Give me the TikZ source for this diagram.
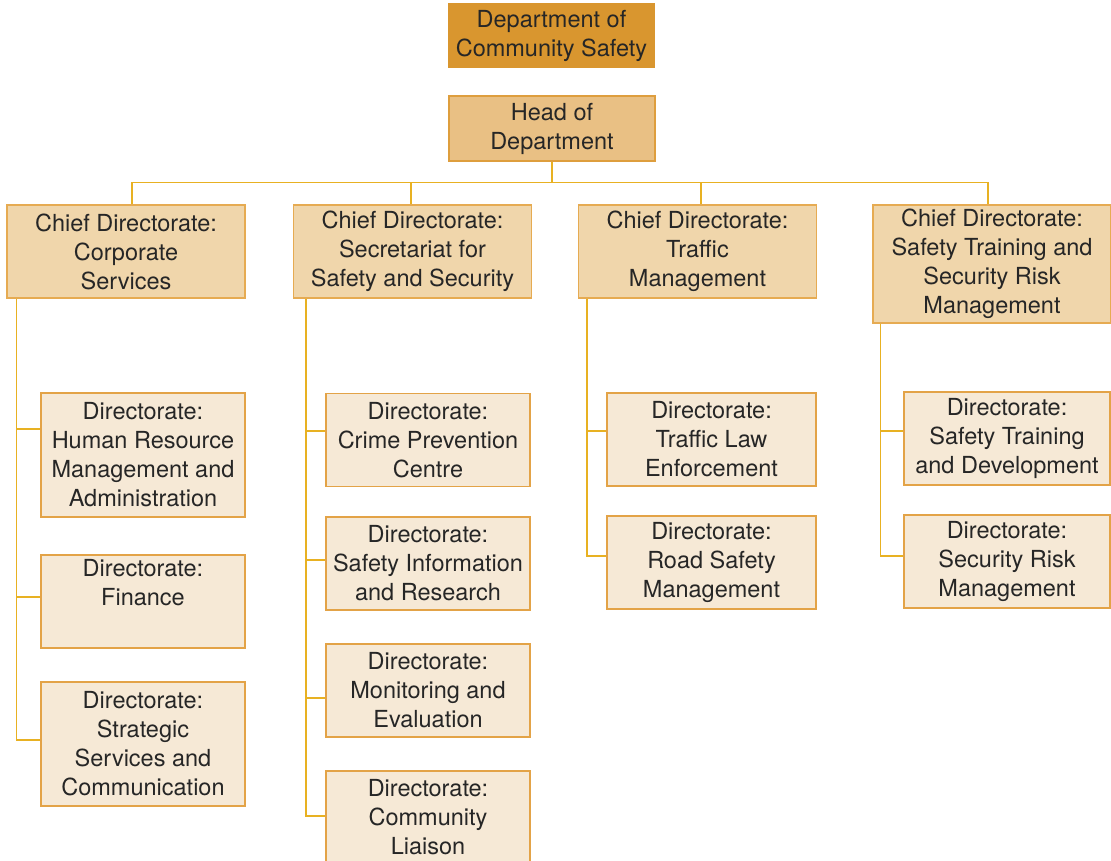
\documentclass[tikz,border=0pt]{standalone}
\usepackage{fontspec}
\setmainfont{TeX Gyre Heros}
\usetikzlibrary{positioning}
\definecolor{topfill}{HTML}{D9962F}
\definecolor{headfill}{HTML}{E9C084}
\definecolor{headline}{HTML}{DE9E3E}
\definecolor{chieffill}{HTML}{F0D6AB}
\definecolor{chiefline}{HTML}{E6AB52}
\definecolor{dirfill}{HTML}{F6E9D6}
\definecolor{dirline}{HTML}{E3A347}
\definecolor{linkcol}{HTML}{E8B122}
\definecolor{txt}{HTML}{262626}
\tikzset{
  titlebox/.style={fill=topfill, minimum width=207pt, minimum height=65pt, align=center},
  headbox/.style={draw=headline, line width=1.5pt, fill=headfill, minimum width=206pt, minimum height=65pt, align=center},
  chiefbox/.style={draw=chiefline, line width=1.5pt, fill=chieffill, minimum width=238pt, minimum height=93pt, align=center},
  dirbox/.style={draw=dirline, line width=1.5pt, fill=dirfill, minimum width=204pt, minimum height=93pt, align=center},
  orgline/.style={draw=linkcol, line width=1.5pt}
}

\begin{document}
\begin{tikzpicture}[x=1pt, y=-1pt, every node/.style={inner sep=0pt, text=txt, font=\fontsize{23.5}{29}\selectfont}]
  \useasboundingbox (0,0) rectangle (1111,861);
  \node[titlebox] (dept) at (551.5,35.5) {Department of\\Community Safety};
  \node[headbox] (head) at (552,128.5) {Head of\\Department};

  \node[chiefbox] (c1) at (126,251.5) {Chief Directorate:\\Corporate\\Services};
  \node[chiefbox] (c2) at (412.5,251.5) {Chief Directorate:\\Secretariat for\\Safety and Security};
  \node[chiefbox] (c3) at (697.5,251.5) {Chief Directorate:\\Traffic\\Management};
  \node[chiefbox, minimum height=118pt] (c4) at (992,264) {Chief Directorate:\\Safety Training and\\Security Risk\\Management};

  \node[dirbox, minimum height=124pt] (d11) at (143,455) {Directorate:\\Human Resource\\Management and\\Administration};
  \node[dirbox] (d12) at (143,601.5) {Directorate:\\Finance\\ \strut};
  \node[dirbox, minimum height=124pt] (d13) at (143,744) {Directorate:\\Strategic\\Services and\\Communication};

  \node[dirbox] (d21) at (428,440) {Directorate:\\Crime Prevention\\Centre};
  \node[dirbox] (d22) at (428,563.5) {Directorate:\\Safety Information\\and Research};
  \node[dirbox] (d23) at (428,690.5) {Directorate:\\Monitoring and\\Evaluation};
  \node[dirbox] (d24) at (428,817.5) {Directorate:\\Community\\Liaison};

  \node[dirbox, minimum width=209pt] (d31) at (711.5,439.5) {Directorate:\\Traffic Law\\Enforcement};
  \node[dirbox, minimum width=209pt] (d32) at (711.5,562.5) {Directorate:\\Road Safety\\Management};

  \node[dirbox, minimum width=206pt] (d41) at (1007,438.5) {Directorate:\\Safety Training\\and Development};
  \node[dirbox, minimum width=206pt] (d42) at (1007,561.5) {Directorate:\\Security Risk\\Management};

  \draw[orgline] (head.south) -- ++(0,21) coordinate (bar);
  \draw[orgline] ([xshift=6]c1.north) |- (bar) -| ([xshift=-4]c4.north);
  \draw[orgline] ([xshift=-1.5]c2.north) -- ([xshift=-1.5]c2.north |- bar);
  \draw[orgline] ([xshift=3.5]c3.north) -- ([xshift=3.5]c3.north |- bar);

  \draw[orgline] ([xshift=10]c1.south west) |- ([yshift=26]d11.west)
    ([xshift=10]c1.south west) |- ([yshift=4.5]d12.west)
    ([xshift=10]c1.south west) |- ([yshift=4]d13.west);
  \draw[orgline] ([xshift=13]c2.south west) |- ([yshift=9]d21.west)
    ([xshift=13]c2.south west) |- ([yshift=3.5]d22.west)
    ([xshift=13]c2.south west) |- ([yshift=-7.5]d23.west)
    ([xshift=13]c2.south west) |- ([yshift=1.5]d24.west);
  \draw[orgline] ([xshift=9]c3.south west) |- ([yshift=8.5]d31.west)
    ([xshift=9]c3.south west) |- ([yshift=6.5]d32.west);
  \draw[orgline] ([xshift=8]c4.south west) |- ([yshift=7.5]d41.west)
    ([xshift=8]c4.south west) |- ([yshift=5.5]d42.west);
\end{tikzpicture}
\end{document}
